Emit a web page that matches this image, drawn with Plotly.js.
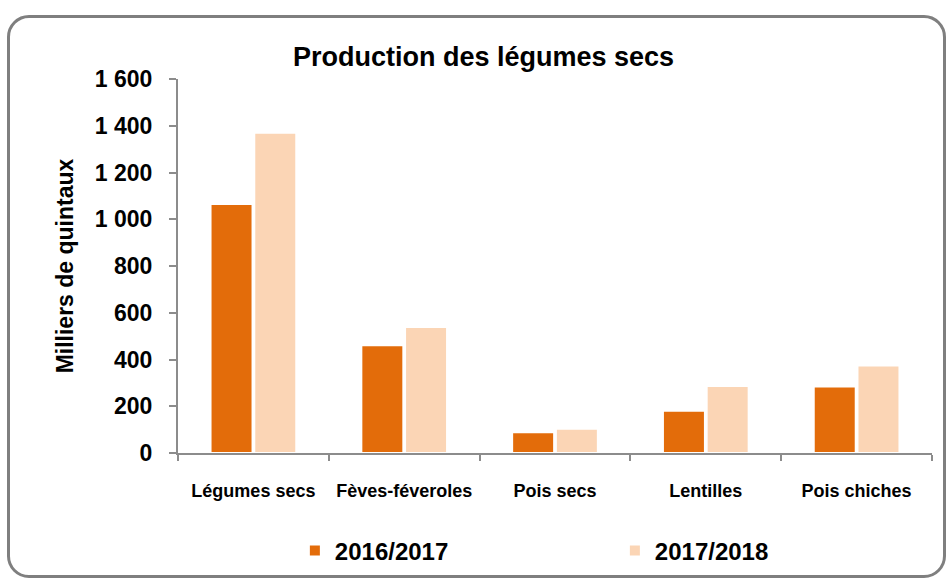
<!DOCTYPE html>
<html>
<head>
<meta charset="utf-8">
<script src="https://cdn.plot.ly/plotly-3.0.1.min.js"></script>
<style>
  body { margin: 0; background: #fff; }
  #frame {
    position: absolute; left: 7px; top: 15px; width: 933px; height: 557px;
    border: 3px solid #7f7f7f; border-radius: 22px;
  }
  #chart { position: absolute; left: 0; top: 0; width: 950px; height: 581px; }
</style>
</head>
<body>
<div id="frame"></div>
<div id="chart"></div>
<script>
const categories = ["Légumes secs", "Fèves-féveroles", "Pois secs", "Lentilles", "Pois chiches"];
const seriesNames = ["2016/2017", "2017/2018"];
const values2016 = [1065, 461, 89, 181, 284];
const values2018 = [1370, 539, 104, 287, 374];
const yTicks = [0, 200, 400, 600, 800, 1000, 1200, 1400, 1600];

const boldFont = "Liberation Sans, Arial, sans-serif";

const data = [
  {
    type: "bar", name: seriesNames[0], x: categories, y: values2016,
    marker: {color: "#E36C0A", line: {color: "#ffffff", width: 2}}
  },
  {
    type: "bar", name: seriesNames[1], x: categories, y: values2018,
    marker: {color: "#FBD5B5", line: {color: "#ffffff", width: 2}}
  }
];

const layout = {
  width: 950,
  height: 581,
  margin: {l: 178, r: 18, t: 79, b: 128, autoexpand: false},
  paper_bgcolor: "rgba(0,0,0,0)",
  plot_bgcolor: "rgba(0,0,0,0)",
  separators: ", ",
  bargap: 0.42,
  bargroupgap: 0.04,
  showlegend: true,
  title: {
    text: "<b>Production des légumes secs</b>",
    font: {family: boldFont, size: 27, color: "#000"},
    x: 0.509, xanchor: "center", y: 0.903, yanchor: "middle"
  },
  xaxis: {
    type: "category",
    automargin: false,
    showline: true, linecolor: "#8c8c8c", linewidth: 2,
    ticks: "outside", tickson: "boundaries", ticklen: 6, tickcolor: "#8c8c8c", tickwidth: 2,
    tickfont: {family: boldFont, size: 18, color: "#000", weight: "bold"},
    ticklabelstandoff: 20
  },
  yaxis: {
    range: [0, 1600],
    automargin: false,
    tickvals: yTicks,
    tickformat: ",d",
    separatethousands: true,
    showgrid: false, zeroline: false,
    showline: true, linecolor: "#8c8c8c", linewidth: 2,
    ticks: "outside", ticklen: 7, tickcolor: "#8c8c8c", tickwidth: 2,
    tickfont: {family: boldFont, size: 23, color: "#000", weight: "bold"},
    ticklabelstandoff: 12,
    title: {
      text: "<b>Milliers de quintaux</b>",
      font: {family: boldFont, size: 23, color: "#000"},
      standoff: 15
    }
  },
  legend: {
    orientation: "h",
    x: 0.155, xanchor: "left",
    y: -0.262, yanchor: "middle",
    entrywidth: 275,
    font: {family: boldFont, size: 24, color: "#000", weight: "bold"},
    itemclick: false
  }
};

Plotly.newPlot("chart", data, layout, {displayModeBar: false, staticPlot: true});
</script>
</body>
</html>
